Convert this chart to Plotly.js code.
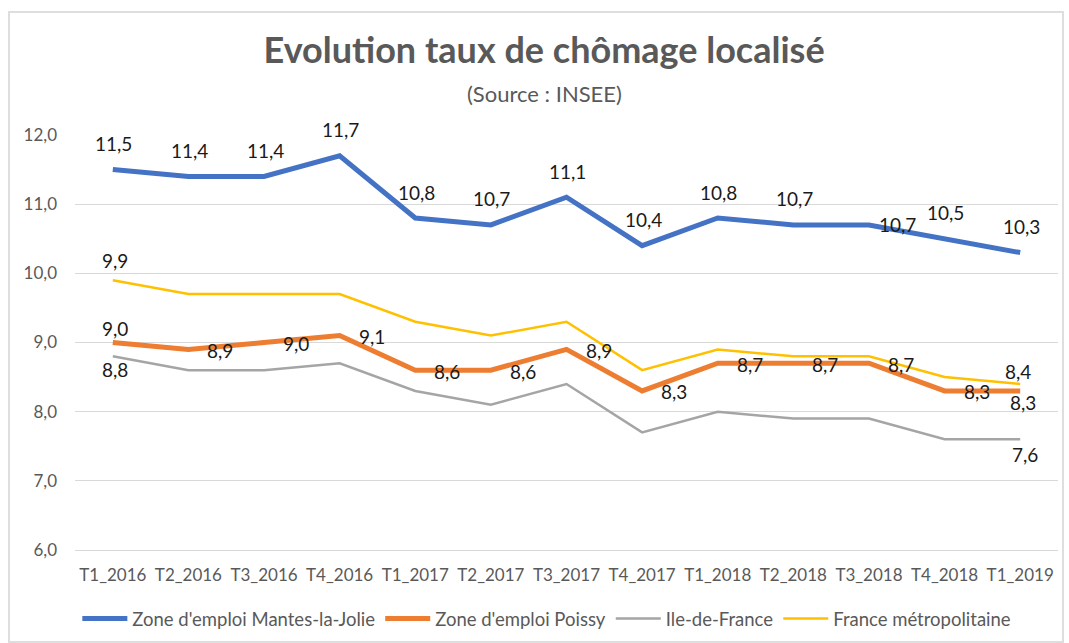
<!DOCTYPE html>
<html>
<head>
<meta charset="utf-8">
<script src="https://cdn.plot.ly/plotly-3.0.1.min.js"></script>
<style>
  html, body { margin: 0; padding: 0; background: #fff; }
  #wrap { position: relative; width: 1069px; height: 643px; overflow: hidden; }
  #chart { position: absolute; left: 0; top: 0; width: 1069px; height: 643px; }
  #frame { position: absolute; left: 8px; top: 11px; width: 1052px; height: 628px;
           border: 2px solid #dedede; pointer-events: none; }
</style>
</head>
<body>
<div id="wrap">
  <div id="chart"></div>
  <div id="frame"></div>
</div>
<script>
// ---- data ----
const categories = ["T1_2016","T2_2016","T3_2016","T4_2016","T1_2017","T2_2017","T3_2017",
                    "T4_2017","T1_2018","T2_2018","T3_2018","T4_2018","T1_2019"];
const seriesNames = ["Zone d'emploi Mantes-la-Jolie","Zone d'emploi Poissy","Ile-de-France","France métropolitaine"];
const mantes  = [11.5, 11.4, 11.4, 11.7, 10.8, 10.7, 11.1, 10.4, 10.8, 10.7, 10.7, 10.5, 10.3];
const poissy  = [9.0, 8.9, 9.0, 9.1, 8.6, 8.6, 8.9, 8.3, 8.7, 8.7, 8.7, 8.3, 8.3];
const idf     = [8.8, 8.6, 8.6, 8.7, 8.3, 8.1, 8.4, 7.7, 8.0, 7.9, 7.9, 7.6, 7.6];
const france  = [9.9, 9.7, 9.7, 9.7, 9.3, 9.1, 9.3, 8.6, 8.9, 8.8, 8.8, 8.5, 8.4];
const yTickVals = [6, 7, 8, 9, 10, 11, 12];
const yTickText = ["6,0","7,0","8,0","9,0","10,0","11,0","12,0"];

// which points carry a data label (index lists per series)
const labeledMantes = [0,1,2,3,4,5,6,7,8,9,10,11,12];
const labeledPoissy = [0,1,2,3,4,5,6,7,8,9,10,11,12];
const labeledIdf    = [0,12];
const labeledFrance = [0,12];

// ---- styles ----
const colors = ["#4472C4", "#ED7D31", "#A5A5A5", "#FFC000"];
const widths = [5, 5, 2.5, 2.5];
const fontFam = "Lato, 'Open Sans', sans-serif";

// label offsets in px [dx, dyUp] per labeled point
const offMantes = labeledMantes.map(i => i === 10 ? [29, 0] : [1, 26]);
const offPoissy = labeledPoissy.map(i => i === 0 ? [2, 14] : (i === 12 ? [3, -12] : [32, -1]));
const offIdf    = [[2, -13], [5, -15]];
const offFrance = [[2, 20], [-2, 13]];

const fmt = v => v.toFixed(1).replace('.', ',');

const allSeries = [mantes, poissy, idf, france];
const traces = allSeries.map((ys, k) => ({
  type: 'scatter', mode: 'lines', x: categories, y: ys, name: seriesNames[k],
  line: {color: colors[k], width: widths[k]}, hoverinfo: 'skip'
}));

const annotations = [];
function addLabels(ys, idxs, offs) {
  idxs.forEach((i, j) => {
    annotations.push({
      x: categories[i], y: ys[i], xref: 'x', yref: 'y', text: fmt(ys[i]),
      showarrow: false, xanchor: 'center', yanchor: 'middle',
      xshift: offs[j][0], yshift: offs[j][1],
      font: {family: fontFam, size: 19, color: '#1a1a1a'}
    });
  });
}
addLabels(mantes, labeledMantes, offMantes);
addLabels(poissy, labeledPoissy, offPoissy);
addLabels(idf, labeledIdf, offIdf);
addLabels(france, labeledFrance, offFrance);

annotations.push({
  xref: 'paper', yref: 'paper', x: 0.478, y: 1.0, yshift: 42,
  text: '(Source : INSEE)', showarrow: false, xanchor: 'center', yanchor: 'middle',
  font: {family: fontFam, size: 22, color: '#595959'}
});

const layout = {
  width: 1069, height: 643,
  margin: {l: 75, r: 11, t: 135, b: 93, autoexpand: false},
  paper_bgcolor: '#fff', plot_bgcolor: '#fff',
  separators: ', ',
  showlegend: true,
  title: {
    text: '<b>Evolution taux de chômage localisé</b>',
    x: 0.509, xanchor: 'center', xref: 'container',
    y: 1 - 50/643, yanchor: 'middle', yref: 'container',
    font: {family: fontFam, size: 36, color: '#595959'}
  },
  xaxis: {
    type: 'category', range: [-0.5, 12.5], autorange: false,
    showgrid: false, zeroline: false,
    showline: true, linecolor: '#d9d9d9', linewidth: 1,
    ticks: '', ticklabelstandoff: 10,
    tickfont: {family: fontFam, size: 17, color: '#595959'},
    fixedrange: true
  },
  yaxis: {
    range: [6, 12], autorange: false, tickvals: yTickVals, ticktext: yTickText,
    showgrid: true, gridcolor: '#d9d9d9', gridwidth: 1, zeroline: false,
    showline: false, ticks: '', ticklabelstandoff: 17,
    tickfont: {family: fontFam, size: 17, color: '#595959'},
    fixedrange: true
  },
  legend: {
    orientation: 'h', x: 0.48, xanchor: 'center',
    yref: 'container', y: 1 - 619/643, yanchor: 'middle',
    font: {family: fontFam, size: 18.5, color: '#595959'},
    itemwidth: 45, traceorder: 'normal'
  },
  annotations: annotations
};

Plotly.newPlot('chart', traces, layout, {displayModeBar: false, staticPlot: true});
</script>
</body>
</html>
